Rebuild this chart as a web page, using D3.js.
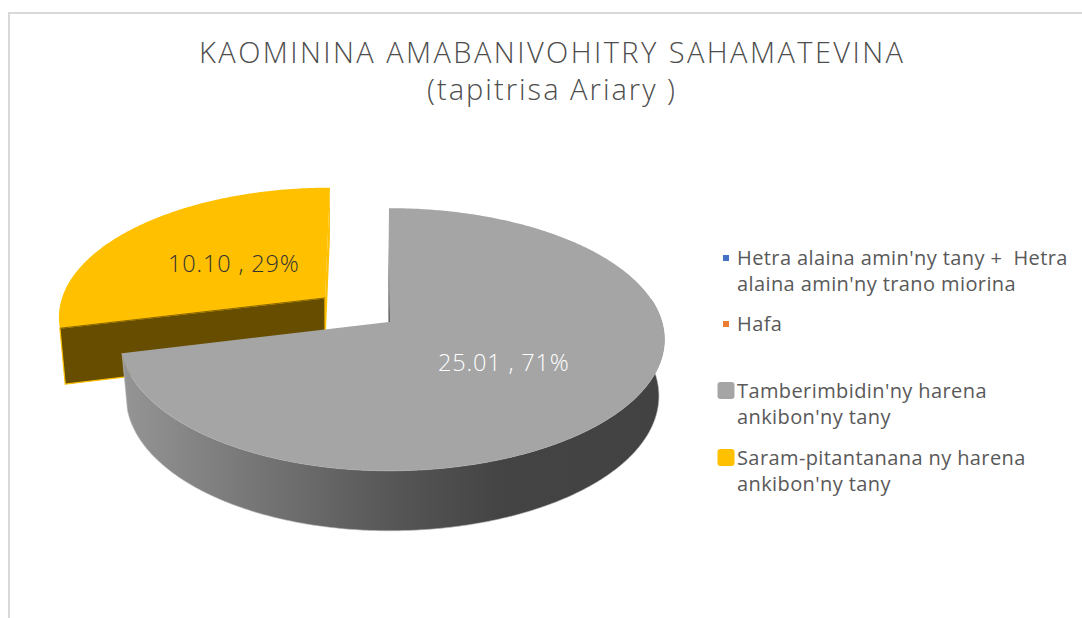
<!DOCTYPE html>
<html><head><meta charset="utf-8">
<script src="https://cdn.jsdelivr.net/npm/d3@7/dist/d3.min.js"></script>
<style>html,body{margin:0;padding:0;background:#fff;overflow:hidden}svg{display:block}text{font-family:"Open Sans",sans-serif}</style>
</head><body><svg id="c" width="1082" height="618"></svg>
<script>
const titleLines = ["KAOMININA AMABANIVOHITRY SAHAMATEVINA", "(tapitrisa Ariary )"];
const categories = ["Hetra alaina amin'ny tany +  Hetra alaina amin'ny trano miorina", "Hafa", "Tamberimbidin'ny harena ankibon'ny tany", "Saram-pitantanana ny harena ankibon'ny tany"];
const values = [0, 0, 25.01, 10.10];
const percents = ["0%", "0%", "71%", "29%"];
const colors = ["#4472c4", "#ed7d31", "#a5a5a5", "#ffc000"];

const svg = d3.select("#c");
const W = 1082, H = 618;
svg.append("path").attr("d", `M9,${H}V13H${W}`).attr("fill", "none").attr("stroke", "#d9d9d9").attr("stroke-width", 2);

// title
const titleSpec = [{x: 199, y: 63, len: 704}, {x: 427, y: 100, len: 248}];
svg.selectAll("text.title").data(titleLines).join("text").attr("class", "title")
  .attr("x", (d, i) => titleSpec[i].x).attr("y", (d, i) => titleSpec[i].y)
  .attr("textLength", (d, i) => titleSpec[i].len).attr("lengthAdjust", "spacing")
  .attr("font-size", 29).attr("font-weight", 300).attr("fill", "#4d4d4d").text(d => d);

// pie layout
const arcs = d3.pie().sort(null).value(d => d)(values);

// perspective projection of the tilted disc
const K = 0.133;
function project(theta, r, o) {
  const u = r * Math.sin(theta), v = -r * Math.cos(theta), w = 1 - K * v;
  const a = u >= 0 ? o.right : o.left;
  return [o.cx + a * u / w + o.skew * (-v), o.cy + o.b * v / w];
}
function lower(p, theta, r, o) {
  const v = -r * Math.cos(theta);
  return [o.cx + (p[0] - o.cx) * 0.98, p[1] + o.depth + 4 * v];
}
const line = d3.line();
function arcPts(s, e, o) {
  const n = Math.max(2, Math.ceil((e - s) / 0.01));
  return d3.range(n + 1).map(i => { const t = s + (e - s) * i / n; return {t, p: project(t, 1, o)}; });
}
const defs = svg.append("defs");
const sideStops = [[122,"#959595"],[250,"#777777"],[400,"#555555"],[500,"#444444"],[665,"#424242"]];
const g = defs.append("linearGradient").attr("id", "side").attr("gradientUnits", "userSpaceOnUse")
  .attr("x1", 122).attr("x2", 665).attr("y1", 0).attr("y2", 0);
g.selectAll("stop").data(sideStops).join("stop")
  .attr("offset", d => (d[0] - 122) / 543).attr("stop-color", d => d[1]);
const lg = defs.append("linearGradient").attr("id", "cut").attr("x1", 0).attr("x2", 0).attr("y1", 0).attr("y2", 1);
lg.append("stop").attr("offset", 0.25).attr("stop-color", "#a5a5a5");
lg.append("stop").attr("offset", 1).attr("stop-color", "#444444");

const geom = [null, null,
  {cx: 389, cy: 322, right: 273, left: 266, skew: 0, b: 129, depth: 56},
  {cx: 325, cy: 298, right: 263, left: 263, skew: 5, b: 125, depth: 55}];

const pie = svg.append("g");
// yellow slice (exploded, drawn first)
{
  const d = arcs[3], o = geom[3];
  const pts = arcPts(d.startAngle, d.endAngle, o);
  const apex = [o.cx, o.cy];
  const first = pts[0], last = pts[pts.length - 1];
  // right cut sliver
  const lastLow = lower(last.p, last.t, 1, o), apexLow = [apex[0], apex[1] + o.depth];
  pie.append("path").attr("d", line([last.p, apex, apexLow, [lastLow[0], lastLow[1]]]) + "Z")
    .attr("fill", "#ffc000");
  // front cut face
  const fl = lower(first.p, first.t, 1, o);
  pie.append("path").attr("d", line([apex, first.p, fl, apexLow]) + "Z")
    .attr("fill", "#664d00").attr("stroke", "#ffc000").attr("stroke-width", 1.2);
  pie.append("path").attr("d", line([apex, ...pts.map(q => q.p)]) + "Z").attr("fill", "#ffc000");
  pie.append("path").attr("d", line([apex, first.p]))
    .attr("stroke", "#664d00").attr("stroke-width", 0.8).attr("fill", "none");
}
// grey slice
{
  const d = arcs[2], o = geom[2];
  const pts = arcPts(d.startAngle, d.endAngle, o);
  const vis = pts.filter(q => q.t >= Math.PI * 0.44);
  const up = vis.map(q => q.p), low = vis.map(q => lower(q.p, q.t, 1, o)).reverse();
  pie.append("path").attr("d", line([...up, ...low]) + "Z").attr("fill", "url(#side)")
    .attr("stroke", "#bdbdbd").attr("stroke-width", 0.6);
  const top = pts[0].p;
  pie.append("path").attr("d", line([[o.cx, o.cy], ...pts.map(q => q.p)]) + "Z").attr("fill", "#a5a5a5");
  pie.append("path").attr("d", line([[top[0] - 1, top[1]], [o.cx - 0.5, o.cy], [o.cx + 0.7, o.cy], [top[0] - 1, top[1]]]) + "Z")
    .attr("fill", "url(#cut)");
}

// data labels
const labelPos = [null, null, {x: 438, y: 371, fill: "#ffffff"}, {x: 168, y: 272, fill: "#333333"}];
svg.selectAll("text.dl").data(arcs.filter(d => d.value > 0)).join("text").attr("class", "dl")
  .attr("x", d => labelPos[d.index].x).attr("y", d => labelPos[d.index].y)
  .attr("font-size", 23.5).attr("font-weight", 300).attr("letter-spacing", 0.85).attr("fill", d => labelPos[d.index].fill)
  .text(d => `${d.value.toFixed(2)} , ${percents[d.index]}`);

// legend
const legendLines = [["Hetra alaina amin'ny tany +  Hetra", "alaina amin'ny trano miorina"], ["Hafa"], ["Tamberimbidin'ny harena", "ankibon'ny tany"], ["Saram-pitantanana ny harena", "ankibon'ny tany"]];
const legendY = [265, 331, 398, 465];
const swatch = [6, 6, 17, 17];
const swatchY = [258, 324, 390.5, 457.5];
const lh = 25.5;
const lgd = svg.append("g").selectAll("g").data(categories).join("g");
lgd.append("rect").attr("x", (d, i) => 726 - swatch[i] / 2).attr("y", (d, i) => swatchY[i] - swatch[i] / 2)
  .attr("width", (d, i) => swatch[i]).attr("height", (d, i) => swatch[i])
  .attr("rx", (d, i) => swatch[i] > 10 ? 3 : 0).attr("fill", (d, i) => colors[i]);
lgd.each(function(d, i) {
  d3.select(this).selectAll("text").data(legendLines[i]).join("text")
    .attr("x", 737).attr("y", (t, j) => legendY[i] + j * lh)
    .attr("font-size", 20).attr("letter-spacing", 0.4).attr("fill", "#595959").style("white-space", "pre").text(t => t);
});
</script></body></html>
